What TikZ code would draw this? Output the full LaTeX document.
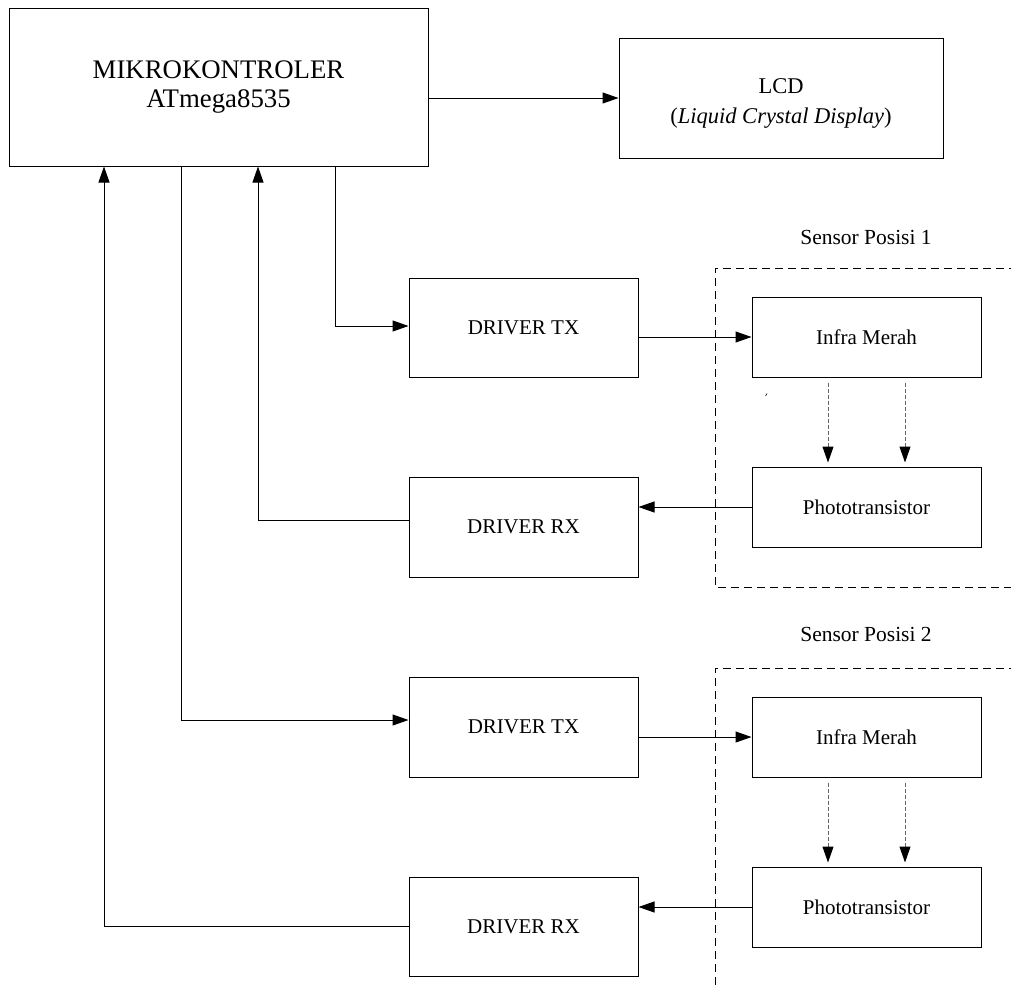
\documentclass[tikz,border=0pt]{standalone}
\usepackage{fontspec}
\setmainfont{Liberation Serif}
\usetikzlibrary{arrows.meta}
\begin{document}
\begin{tikzpicture}[x=1pt,y=-1pt,
  blk/.style={draw=black,line width=1pt,inner sep=0pt,align=center,font=\fontsize{21}{25}\selectfont},
  arr/.style={line width=1pt,-{Triangle[length=16pt,width=11pt]}},
  darr/.style={line width=1pt,draw=black!60,dash pattern=on 4pt off 2pt,-{Triangle[length=16pt,width=11pt,color=black]}},
  sbox/.style={line width=1pt,dash pattern=on 8pt off 5pt},
  lbl/.style={inner sep=0pt,font=\fontsize{21.5}{25}\selectfont}]
\useasboundingbox (0,0) rectangle (1011,985);
\clip (0,0) rectangle (1011,985);
\fill[white] (0,0) rectangle (1011,985);

\node[blk,minimum width=419pt,minimum height=158pt,font=\fontsize{26.8}{28.5}\selectfont] (mcu) at (218.5,87) {MIKROKONTROLER\\ATmega8535};
\node[blk,minimum width=324pt,minimum height=120pt,font=\fontsize{22.5}{30}\selectfont] (lcd) at (781,98) {\vphantom{(}\\[-20pt]LCD\\(\textit{Liquid Crystal Display})};

\node[blk,minimum width=229pt,minimum height=99pt] (tx1) at (523.5,327.5) {DRIVER TX};
\node[blk,minimum width=229pt,minimum height=100pt] (rx1) at (523.5,527) {DRIVER RX};
\node[blk,minimum width=229pt,minimum height=100pt] (tx2) at (523.5,727) {DRIVER TX};
\node[blk,minimum width=229pt,minimum height=99pt] (rx2) at (523.5,926.5) {DRIVER RX};

\node[blk,minimum width=229pt,minimum height=80pt] (im1) at (866.5,337) {Infra Merah};
\node[blk,minimum width=229pt,minimum height=80pt] (pt1) at (866.5,507) {Phototransistor};
\node[blk,minimum width=229pt,minimum height=80pt] (im2) at (866.5,737) {Infra Merah};
\node[blk,minimum width=229pt,minimum height=80pt] (pt2) at (866.5,907) {Phototransistor};

\node[lbl] (s1) at (866,237) {Sensor Posisi 1};
\node[lbl] (s2) at (866,634) {Sensor Posisi 2};

% sensor groups (open on the right)
\draw[sbox] (1030,268) -- (715,268) -- (715,587) -- (1030,587);
\draw[sbox] (1030,668) -- (715,668) -- (715,1000);

% stray tick
\draw[line width=0.6pt] (765.5,396) -- (767,393.5);

% columns
\coordinate (c1) at (104,0);
\coordinate (c2) at (181,0);
\coordinate (c3) at (258,0);
\coordinate (c4) at (335,0);

\draw[arr] (lcd.west -| mcu.east) -- (lcd.west);
\draw[arr] (c4 |- mcu.south) |- ([yshift=1.5pt]tx1.west);
\draw[arr] ([yshift=7pt]rx1.west) -| (c3 |- mcu.south);
\draw[arr] (c2 |- mcu.south) |- ([yshift=7pt]tx2.west);
\draw[arr] (rx2.west) -| (c1 |- mcu.south);

\draw[arr] (tx1.east |- im1.west) -- (im1.west);
\draw[arr] (pt1.west) -- (pt1.west -| rx1.east);
\draw[arr] (tx2.east |- im2.west) -- (im2.west);
\draw[arr] (pt2.west) -- (pt2.west -| rx2.east);

\draw[darr] ([xshift=-38.5pt,yshift=-5pt]im1.south) -- ([xshift=-38.5pt,yshift=4pt]pt1.north);
\draw[darr] ([xshift=38.5pt,yshift=-5pt]im1.south) -- ([xshift=38.5pt,yshift=4pt]pt1.north);
\draw[darr] ([xshift=-38.5pt,yshift=-5pt]im2.south) -- ([xshift=-38.5pt,yshift=4pt]pt2.north);
\draw[darr] ([xshift=38.5pt,yshift=-5pt]im2.south) -- ([xshift=38.5pt,yshift=4pt]pt2.north);
\end{tikzpicture}
\end{document}
